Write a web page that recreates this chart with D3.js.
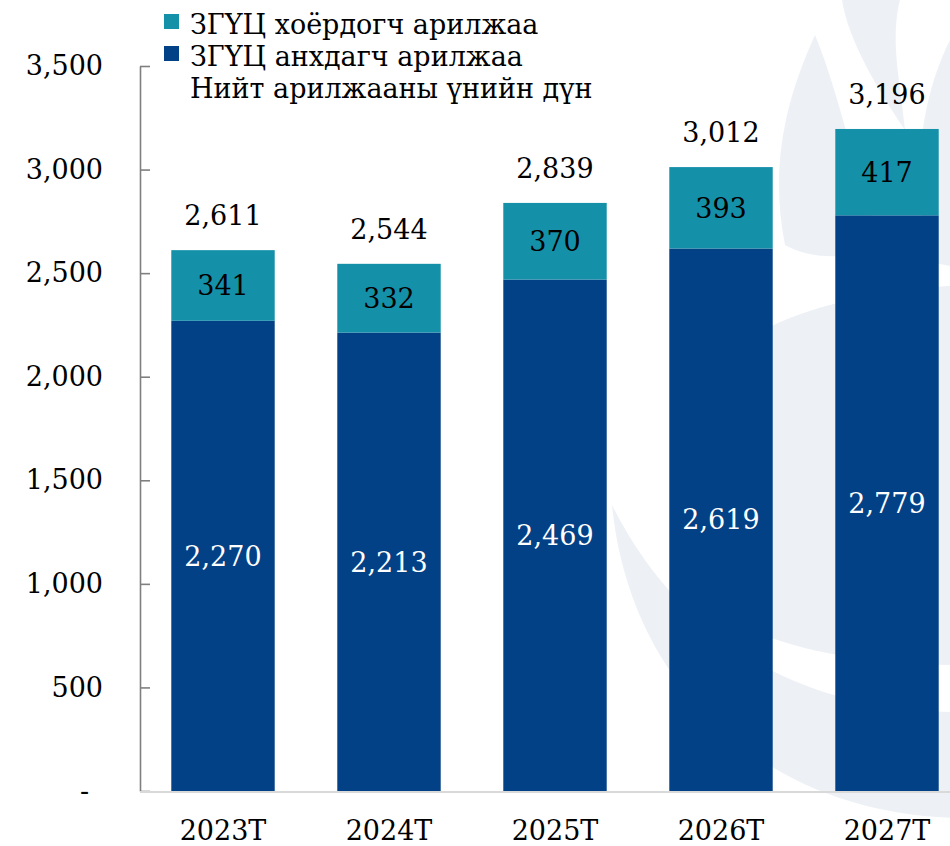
<!DOCTYPE html>
<html>
<head>
<meta charset="utf-8">
<script src="https://cdn.jsdelivr.net/npm/d3@7"></script>
<style>
  body { margin: 0; background: #fff; }
  text { font-family: "DejaVu Serif", "Liberation Serif", serif; }
</style>
</head>
<body>
<script>
var categories = ["2023T", "2024T", "2025T", "2026T", "2027T"];
var primaryVals = [2270, 2213, 2469, 2619, 2779];   // ЗГҮЦ анхдагч арилжаа
var secondaryVals = [341, 332, 370, 393, 417];      // ЗГҮЦ хоёрдогч арилжаа
var totalVals = [2611, 2544, 2839, 3012, 3196];     // Нийт арилжааны үнийн дүн
var yTicks = [0, 500, 1000, 1500, 2000, 2500, 3000, 3500];
var legendNames = ["ЗГҮЦ хоёрдогч арилжаа", "ЗГҮЦ анхдагч арилжаа", "Нийт арилжааны үнийн дүн"];

var W = 950, H = 846;
var teal = "#1590a9", navy = "#034187";

var svg = d3.select("body").append("svg")
  .attr("width", W)
  .attr("height", H);

// faint logo watermark behind the chart
var wm = svg.append("g").attr("fill", "#edf1f6");
// lower crescent
wm.append("path")
  .attr("d", "M612,505 C630,690 770,815 960,818 L960,712 C800,712 680,640 612,505 Z");
// disc
wm.append("path")
  .attr("d", "M700,400 C720,330 820,295 960,285 L960,665 C860,665 760,648 700,600 C680,540 680,460 700,400 Z");
// flames
wm.append("path")
  .attr("d", "M815,35 C790,90 768,160 785,245 C815,262 850,256 885,250 C855,180 842,100 815,35 Z");
wm.append("path")
  .attr("d", "M842,0 C848,40 878,90 905,130 C900,80 890,40 900,0 Z");
wm.append("path")
  .attr("d", "M950,40 C920,100 910,180 930,262 L950,266 Z");

var x = d3.scaleBand()
  .domain(categories)
  .range([140, 970])
  .paddingInner(0.377)
  .paddingOuter(0.1885);

var y = d3.scaleLinear()
  .domain([0, 3500])
  .range([791, 66]);

// y axis
var yAxis = svg.append("g")
  .attr("transform", "translate(140,0)")
  .call(d3.axisLeft(y)
    .tickValues(yTicks)
    .tickSizeInner(-10)
    .tickSizeOuter(0)
    .tickPadding(37)
    .tickFormat(function(d) { return d === 0 ? "-" : d3.format(",")(d); }));
yAxis.select(".domain").attr("stroke", "#7f7f7f").attr("stroke-width", 1.6);
yAxis.selectAll(".tick line").attr("stroke", "#7f7f7f").attr("stroke-width", 1.6);
yAxis.selectAll(".tick text")
  .attr("font-size", 27)
  .attr("font-family", "DejaVu Serif")
  .attr("fill", "#000")
  .attr("dx", function(d) { return d === 0 ? -14 : 0; });

// bars
var rows = categories.map(function(c, i) {
  return { cat: c, p: primaryVals[i], s: secondaryVals[i], t: totalVals[i] };
});

var g = svg.append("g");
g.selectAll(".bar-p").data(rows).enter().append("rect")
  .attr("x", function(d) { return x(d.cat); })
  .attr("width", x.bandwidth())
  .attr("y", function(d) { return y(d.p); })
  .attr("height", function(d) { return y(0) - y(d.p); })
  .attr("fill", navy);

g.selectAll(".bar-s").data(rows).enter().append("rect")
  .attr("x", function(d) { return x(d.cat); })
  .attr("width", x.bandwidth())
  .attr("y", function(d) { return y(d.p + d.s); })
  .attr("height", function(d) { return y(d.p) - y(d.p + d.s); })
  .attr("fill", teal);

// x baseline
svg.append("line")
  .attr("x1", 140).attr("x2", W)
  .attr("y1", y(0) + 1).attr("y2", y(0) + 1)
  .attr("stroke", "#d9d9d9")
  .attr("stroke-width", 2);

// labels
g.selectAll(".lab-p").data(rows).enter().append("text")
  .attr("x", function(d) { return x(d.cat) + x.bandwidth() / 2; })
  .attr("y", function(d) { return (y(0) + y(d.p)) / 2; })
  .attr("dy", "0.36em")
  .attr("text-anchor", "middle")
  .attr("font-size", 27)
  .attr("fill", "#fff")
  .text(function(d) { return d3.format(",")(d.p); });

g.selectAll(".lab-s").data(rows).enter().append("text")
  .attr("x", function(d) { return x(d.cat) + x.bandwidth() / 2; })
  .attr("y", function(d) { return (y(d.p) + y(d.p + d.s)) / 2; })
  .attr("dy", "0.36em")
  .attr("text-anchor", "middle")
  .attr("font-size", 27)
  .attr("fill", "#000")
  .text(function(d) { return d3.format(",")(d.s); });

g.selectAll(".lab-t").data(rows).enter().append("text")
  .attr("x", function(d) { return x(d.cat) + x.bandwidth() / 2; })
  .attr("y", function(d) { return y(d.t) - 25; })
  .attr("text-anchor", "middle")
  .attr("font-size", 27)
  .attr("fill", "#000")
  .text(function(d) { return d3.format(",")(d.t); });

// category labels
svg.selectAll(".cat").data(categories).enter().append("text")
  .attr("x", function(d) { return x(d) + x.bandwidth() / 2; })
  .attr("y", 840)
  .attr("text-anchor", "middle")
  .attr("font-size", 27)
  .attr("fill", "#000")
  .text(function(d) { return d; });

// legend
var legend = svg.append("g").attr("transform", "translate(164,0)");
var legendColors = [teal, navy, null];
legendNames.forEach(function(name, i) {
  var ly = 34 + i * 32;
  if (legendColors[i]) {
    legend.append("rect")
      .attr("x", 0).attr("y", ly - 20)
      .attr("width", 15).attr("height", 15)
      .attr("fill", legendColors[i]);
  }
  legend.append("text")
    .attr("x", 26).attr("y", ly)
    .attr("font-size", 27)
    .attr("font-family", "'DejaVu Serif Condensed', 'DejaVu Serif', serif")
    .attr("fill", "#000")
    .text(name);
});
</script>
</body>
</html>
